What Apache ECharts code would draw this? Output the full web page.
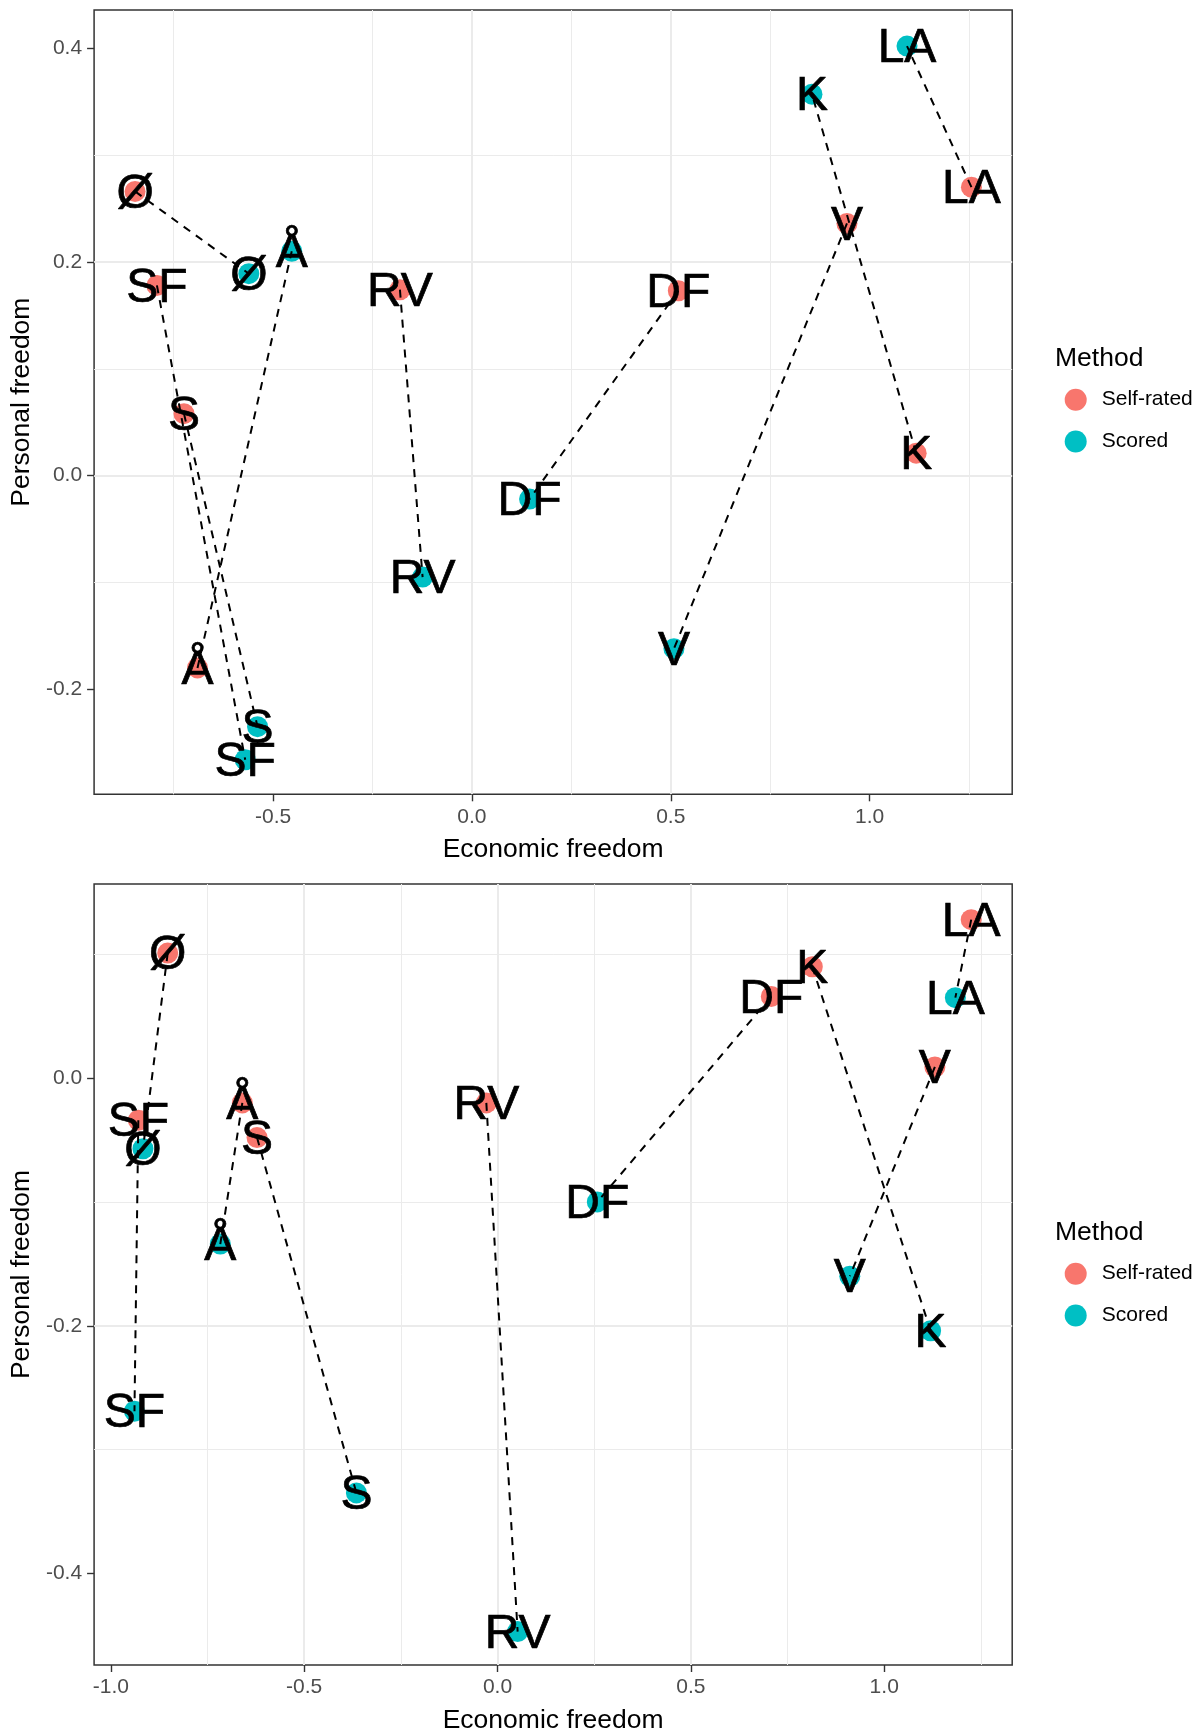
<!DOCTYPE html>
<html>
<head>
<meta charset="utf-8">
<script src="https://cdn.jsdelivr.net/npm/echarts@6/dist/echarts.min.js"></script>
<style>
  html, body { margin: 0; padding: 0; background: #fff; }
  #chart { width: 1197px; height: 1735px; }
</style>
</head>
<body>
<div id="chart"></div>
<script>
// Party abbreviations (same order in every array below)
const parties = ["Ø", "SF", "S", "Å", "RV", "DF", "V", "K", "LA"];

// Upper panel: self-rated vs. scored positions
const selfEcon1   = [-0.847, -0.792, -0.724, -0.690, -0.181, 0.519, 0.943, 1.117, 1.256];
const selfPers1   = [0.266, 0.178, 0.058, -0.180, 0.174, 0.173, 0.236, 0.021, 0.270];
const scoredEcon1 = [-0.561, -0.570, -0.539, -0.453, -0.124, 0.145, 0.508, 0.855, 1.094];
const scoredPers1 = [0.189, -0.266, -0.235, 0.210, -0.095, -0.022, -0.162, 0.357, 0.402];

// Lower panel: self-rated vs. scored positions
const selfEcon2   = [-0.853, -0.929, -0.622, -0.660, -0.029, 0.708, 1.131, 0.814, 1.225];
const selfPers2   = [0.101, -0.034, -0.048, -0.020, -0.020, 0.066, 0.009, 0.090, 0.128];
const scoredEcon2 = [-0.917, -0.939, -0.365, -0.717, 0.052, 0.258, 0.911, 1.120, 1.184];
const scoredPers2 = [-0.057, -0.269, -0.335, -0.134, -0.447, -0.100, -0.160, -0.204, 0.065];

// Tick labels
const xTicks1 = [-0.5, 0.0, 0.5, 1.0];
const yTicks1 = [-0.2, 0.0, 0.2, 0.4];
const xTicks2 = [-1.0, -0.5, 0.0, 0.5, 1.0];
const yTicks2 = [-0.4, -0.2, 0.0];

const methods = ["Self-rated", "Scored"];
const methodColors = ["#F8766D", "#00BFC4"];

const FONT = '"Liberation Sans", Arial, sans-serif';
const chart = echarts.init(document.getElementById('chart'), null, { renderer: 'canvas' });

const panels = [
  { selfX: selfEcon1, selfY: selfPers1, scX: scoredEcon1, scY: scoredPers1,
    xTicks: xTicks1, yTicks: yTicks1,
    xRange: [-0.950, 1.3585], yRange: [-0.2983, 0.4358], top: 10 },
  { selfX: selfEcon2, selfY: selfPers2, scX: scoredEcon2, scY: scoredPers2,
    xTicks: xTicks2, yTicks: yTicks2,
    xRange: [-1.0434, 1.331], yRange: [-0.474, 0.1568], top: 884 }
];

const PANEL_LEFT = 93.8, PANEL_W = 918.4, PANEL_H = 784.3;

const grids = [], xAxes = [], yAxes = [], series = [], legends = [], graphics = [];

function axisCommon(ticks) {
  return {
    type: 'value',
    minInterval: ticks[1] - ticks[0],
    maxInterval: ticks[1] - ticks[0],
    axisLine: { show: false, onZero: false },
    axisTick: { show: true, length: 7, customValues: ticks,
                lineStyle: { color: '#333333', width: 1.4 } },
    axisLabel: { customValues: ticks, fontSize: 21, color: '#4D4D4D', fontFamily: FONT,
                 margin: 12, formatter: v => v.toFixed(1) },
    splitLine: { show: true, showMinLine: false, showMaxLine: false,
                 lineStyle: { color: '#EBEBEB', width: 2 } },
    minorTick: { show: false, splitNumber: 2 },
    minorSplitLine: { show: true, lineStyle: { color: '#EBEBEB', width: 1 } },
    nameLocation: 'middle',
    nameTextStyle: { fontSize: 26.5, color: '#000', fontFamily: FONT }
  };
}

panels.forEach((p, gi) => {
  grids.push({
    left: PANEL_LEFT, top: p.top, width: PANEL_W, height: PANEL_H,
    show: true, borderColor: '#333333', borderWidth: 1.5, backgroundColor: '#fff'
  });
  xAxes.push(Object.assign(axisCommon(p.xTicks), {
    gridIndex: gi, min: p.xRange[0], max: p.xRange[1],
    name: 'Economic freedom', nameGap: 42
  }));
  yAxes.push(Object.assign(axisCommon(p.yTicks), {
    gridIndex: gi, min: p.yRange[0], max: p.yRange[1],
    name: 'Personal freedom', nameGap: 58
  }));

  const selfPts = parties.map((_, i) => [p.selfX[i], p.selfY[i]]);
  const scPts = parties.map((_, i) => [p.scX[i], p.scY[i]]);

  // coloured points
  [selfPts, scPts].forEach((pts, mi) => {
    series.push({
      type: 'scatter', name: methods[mi], xAxisIndex: gi, yAxisIndex: gi,
      data: pts, symbolSize: 21, z: 2,
      itemStyle: { color: methodColors[mi], opacity: 1 },
      emphasis: { disabled: true }, silent: true
    });
  });

  // dashed segment joining each party's two positions
  parties.forEach((name, i) => {
    series.push({
      type: 'line', xAxisIndex: gi, yAxisIndex: gi,
      data: [selfPts[i], scPts[i]], showSymbol: false, symbol: 'none', z: 3,
      lineStyle: { color: '#000', width: 2, type: [8, 7] },
      silent: true, animation: false
    });
  });

  // party labels centred on each point
  [selfPts, scPts].forEach((pts) => {
    series.push({
      type: 'scatter', xAxisIndex: gi, yAxisIndex: gi,
      data: pts.map((pt, i) => ({ value: pt, name: parties[i] })),
      symbolSize: 1, z: 4,
      itemStyle: { color: 'rgba(0,0,0,0)' },
      label: { show: true, position: 'inside', formatter: '{b}', offset: [0, 3],
               fontSize: 48, color: '#000000', opacity: 1, fontFamily: FONT,
               textBorderColor: '#000000', textBorderWidth: 0.7 },
      emphasis: { disabled: true }, silent: true
    });
  });

  const off = p.top - 10;
  legends.push({
    orient: 'vertical', left: 1064.7, top: 388.7 + off, padding: 0,
    data: methods, icon: 'circle', itemWidth: 22, itemHeight: 22, itemGap: 19.8,
    selectedMode: false,
    textStyle: { fontSize: 21, color: '#000', fontFamily: FONT, padding: [0, 0, 0, 10] }
  });
  graphics.push({
    type: 'text', left: 1055, top: 345.2 + off,
    style: { text: 'Method', fontSize: 26.5, fill: '#000', fontFamily: FONT }
  });
});

chart.setOption({
  animation: false,
  backgroundColor: '#fff',
  textStyle: { fontFamily: FONT },
  grid: grids,
  xAxis: xAxes,
  yAxis: yAxes,
  legend: legends,
  graphic: graphics,
  series: series
});
</script>
</body>
</html>
